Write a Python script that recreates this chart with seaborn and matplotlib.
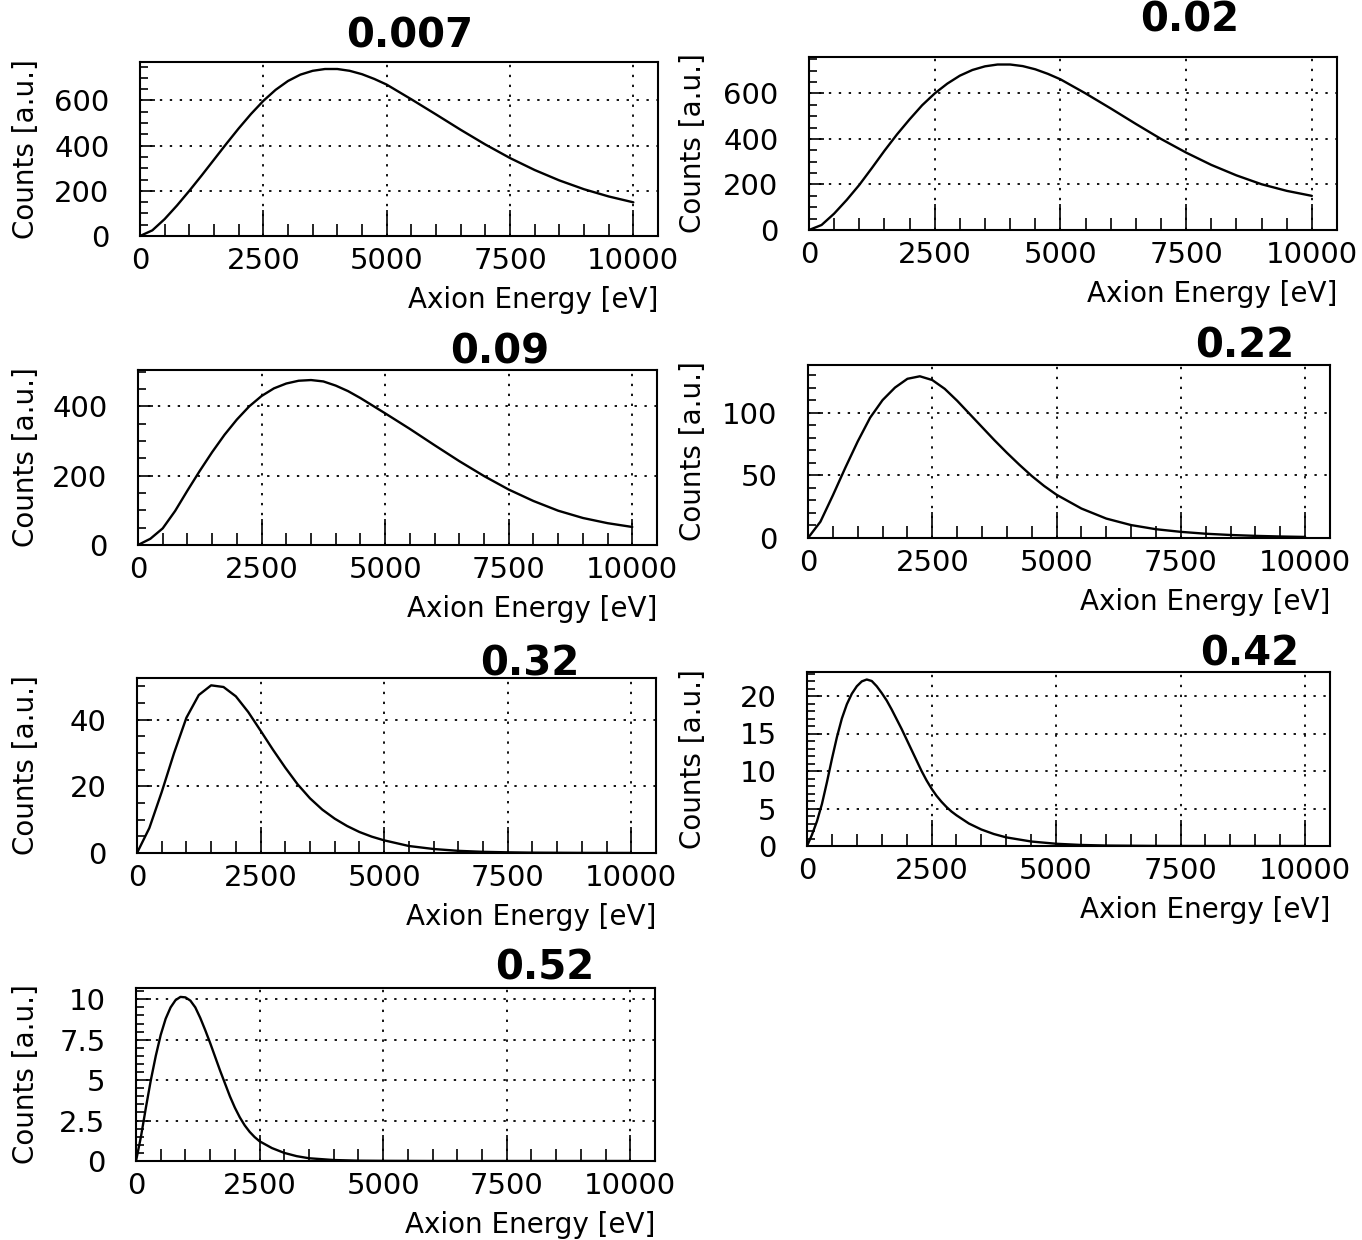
import matplotlib
matplotlib.use("Agg")
import matplotlib.pyplot as plt
import seaborn as sns
from matplotlib.ticker import MultipleLocator, FixedLocator, FuncFormatter

# Axion mass written above each spectrum
mass_labels = ["0.007", "0.02", "0.09", "0.22", "0.32", "0.42", "0.52"]

# Energy grids (eV)
energy_wide = [0, 250, 500, 750, 1000, 1250, 1500, 1750, 2000, 2250, 2500,
               2750, 3000, 3250, 3500, 3750, 4000, 4250, 4500, 4750, 5000,
               5500, 6000, 6500, 7000, 7500, 8000, 8500, 9000, 9500, 10000]
energy_032 = [0, 250, 500, 750, 1000, 1250, 1500, 1750, 2000, 2250, 2500,
              2750, 3000, 3250, 3500, 3750, 4000, 4250, 4500, 4750, 5000,
              5500, 6000, 6500, 7000, 7500, 8000, 9000, 10000]
energy_042 = [0, 100, 200, 300, 400, 500, 600, 700, 800, 900, 1000, 1100,
              1200, 1300, 1400, 1500, 1600, 1700, 1800, 1900, 2000, 2100,
              2200, 2300, 2400, 2500, 2600, 2700, 2800, 2900, 3000, 3250,
              3500, 3750, 4000, 4500, 5000, 5500, 6000, 7000, 8000, 9000, 10000]
energy_052 = [0, 100, 200, 300, 400, 500, 600, 700, 800, 900, 1000, 1100,
              1200, 1300, 1400, 1500, 1600, 1700, 1800, 1900, 2000, 2100,
              2200, 2300, 2400, 2500, 2750, 3000, 3250, 3500, 4000, 4500,
              5000, 6000, 7000, 8000, 9000, 10000]

# Counts [a.u.] for each mass
counts_0007 = [0, 25, 75, 135, 200, 268, 338, 408, 476, 540, 598,
               647, 686, 714, 731, 739, 739, 731, 716, 695, 670,
               605, 538, 470, 405, 345, 292, 246, 207, 175, 149]
counts_002 = [0, 22, 72, 132, 198, 272, 348, 420, 486, 548, 600,
              643, 678, 703, 719, 727, 727, 720, 706, 686, 662,
              600, 534, 466, 400, 340, 286, 240, 201, 172, 150]
counts_009 = [0, 18, 48, 98, 157, 214, 268, 318, 362, 400, 430,
              452, 466, 474, 476, 472, 460, 444, 424, 402, 380,
              335, 288, 242, 199, 160, 127, 99, 78, 63, 52]
counts_022 = [0, 13, 34, 56, 77, 96, 110, 120, 127, 129, 126,
              119, 109.5, 99, 88.5, 78, 68, 58.5, 49.5, 41.5, 34.5,
              23.5, 15.5, 10.3, 7.0, 4.9, 3.4, 2.4, 1.7, 1.2, 0.85]
counts_032 = [0, 7.5, 18.3, 30.0, 40.6, 47.4, 50.3, 49.8, 47.0, 42.3, 36.7,
              31.0, 25.6, 20.6, 16.4, 13.0, 10.3, 8.1, 6.3, 4.9, 3.8,
              2.1, 1.2, 0.65, 0.35, 0.2, 0.1, 0.03, 0.01]
counts_042 = [0, 1.5, 3.3, 5.6, 8.5, 11.6, 14.5, 17.0, 18.9, 20.3, 21.3, 21.95,
              22.2, 22.0, 21.3, 20.4, 19.4, 18.2, 16.9, 15.6, 14.2, 12.8,
              11.4, 10.0, 8.75, 7.65, 6.7, 5.9, 5.2, 4.6, 4.1, 3.0,
              2.2, 1.6, 1.15, 0.6, 0.3, 0.14, 0.06, 0.01, 0, 0, 0]
counts_052 = [0, 1.5, 3.3, 5.0, 6.5, 7.8, 8.8, 9.5, 9.95, 10.15, 10.12, 9.92,
              9.5, 8.85, 8.1, 7.3, 6.45, 5.6, 4.8, 4.0, 3.3, 2.7,
              2.2, 1.8, 1.48, 1.22, 0.8, 0.5, 0.3, 0.17, 0.06, 0.02,
              0.01, 0, 0, 0, 0, 0]

x_ticks = [0, 2500, 5000, 7500, 10000]

sns.set_theme(style="white")
plt.rcParams["font.family"] = ["DejaVu Sans"]
plt.rcParams["text.color"] = "black"
plt.rcParams["axes.labelcolor"] = "black"

W, H = 1362, 1240
fig = plt.figure(figsize=(W / 100, H / 100), dpi=100)

# (left, right, top, bottom) in pixels, y-top, major y step, minor y step,
# title centre (x, y)
panels = [
    ((140, 658, 62, 236), 770, 200, 50, (410, 37)),
    ((809, 1337, 57, 230), 760, 200, 50, (1190, 20)),
    ((138, 657, 370, 545), 505, 200, 50, (500, 352)),
    ((808, 1330, 365, 538), 138, 50, 10, (1245, 346)),
    ((137, 656, 678, 853), 52.5, 20, 5, (530, 664)),
    ((807, 1330, 672, 846), 23.2, 5, 1, (1250, 655)),
    ((136, 655, 988, 1161), 10.7, 2.5, 0.5, (545, 969)),
]
series = [
    (energy_wide, counts_0007), (energy_wide, counts_002),
    (energy_wide, counts_009), (energy_wide, counts_022),
    (energy_032, counts_032), (energy_042, counts_042),
    (energy_052, counts_052),
]

for (box, ytop, ymaj, ymin, tpos), (energy, counts), mass in zip(panels, series, mass_labels):
    l, r, t, b = box
    wpx, hpx = r - l, b - t
    ax = fig.add_axes([l / W, 1 - b / H, wpx / W, hpx / H])
    ax.grid(True, which="major", color="black", linestyle=(0, (1.3, 4.2)),
            linewidth=1.3)
    ax.set_axisbelow(True)
    sns.lineplot(x=energy, y=counts, ax=ax, color="black", linewidth=1.7)
    ax.set_xlim(0, 10500)
    ax.set_ylim(0, ytop)

    ax.xaxis.set_major_locator(FixedLocator(x_ticks))
    ax.xaxis.set_minor_locator(MultipleLocator(500))
    ax.yaxis.set_major_locator(MultipleLocator(ymaj))
    ax.yaxis.set_minor_locator(MultipleLocator(ymin))
    ax.yaxis.set_major_formatter(FuncFormatter(lambda v, _: f"{v:g}"))

    ax.tick_params(bottom=True, left=True, top=False, right=False, which="both")
    ax.tick_params(axis="x", which="major", direction="in", length=19,
                   width=1.2, pad=8, labelsize=21, colors="black")
    ax.tick_params(axis="x", which="minor", direction="in", length=9,
                   width=1.2, colors="black")
    ax.tick_params(axis="y", which="major", direction="in", length=11,
                   width=1.2, pad=22, labelsize=21, colors="black")
    ax.tick_params(axis="y", which="minor", direction="in", length=6,
                   width=1.2, colors="black")

    for sp in ax.spines.values():
        sp.set_color("black")
        sp.set_linewidth(1.5)

    ax.set_xlabel("Axion Energy [eV]", fontsize=20, ha="right", va="top")
    ax.xaxis.set_label_coords(1.0, -50 / hpx)
    ax.set_ylabel("Counts [a.u.]", fontsize=20)
    lab_right = 40 if l < 400 else 707
    ax.yaxis.set_label_coords(-(l - lab_right) / wpx, 0.5)

    fig.text(tpos[0] / W, 1 - tpos[1] / H, mass, ha="center", va="center",
             fontsize=29, fontweight="bold", color="black")

fig.savefig("out.png", dpi=100, facecolor="white")
